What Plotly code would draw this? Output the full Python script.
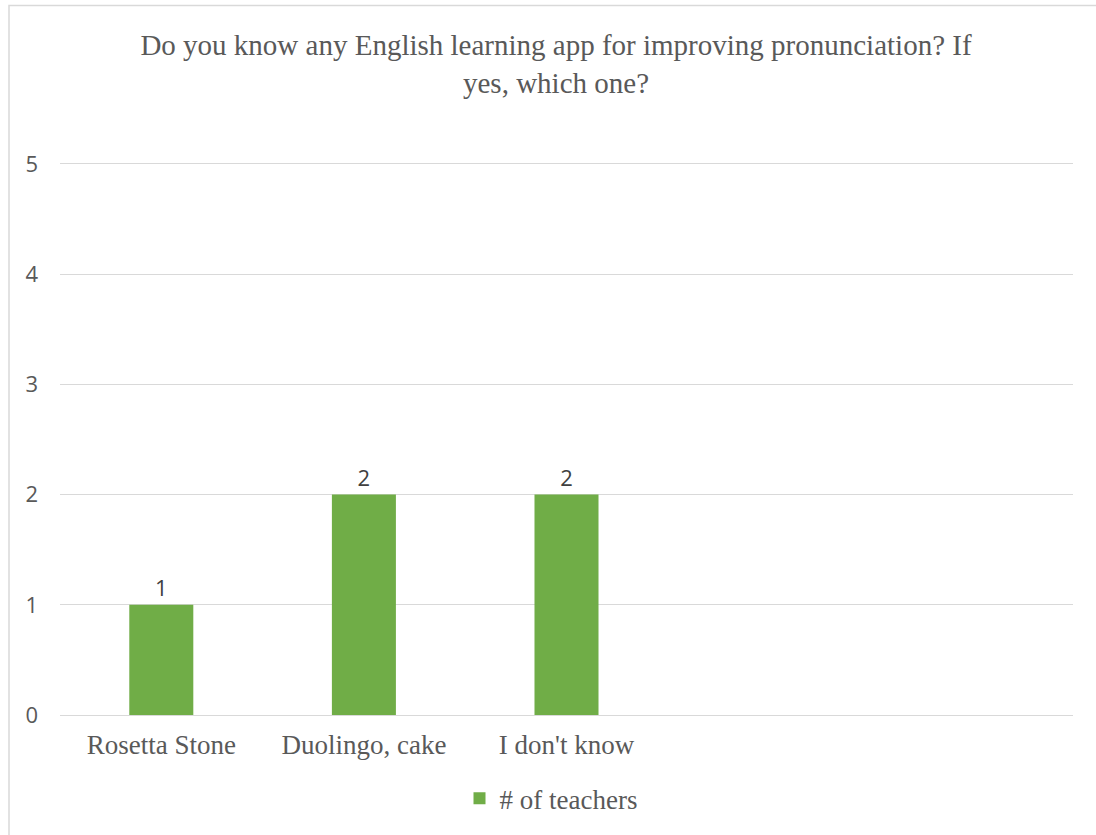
import plotly.graph_objects as go

categories = ["Rosetta Stone", "Duolingo, cake", "I don't know"]
positions = [0, 1, 2]
teachers = [1, 2, 2]
series_name = "# of teachers"
y_ticks = [0, 1, 2, 3, 4, 5]

W, H = 1096, 835
L, R, T, B = 60, 1096 - 1073, 158, 835 - 717
pw, ph = W - L - R, H - T - B
y_top = 5 + (164 - T) / 110.6

fig = go.Figure()
fig.add_trace(go.Bar(
    x=positions, y=teachers, name=series_name,
    width=0.316, marker=dict(color="#70ad47", line=dict(width=0)),
    text=[str(v) for v in teachers], textposition="outside",
    textfont=dict(family="Open Sans, Liberation Sans, sans-serif", size=22, color="#404040"),
    cliponaxis=False, showlegend=True,
))

fig.update_layout(
    width=W, height=H,
    margin=dict(l=L, r=R, t=T, b=B),
    paper_bgcolor="white", plot_bgcolor="white",
    title=dict(
        text="Do you know any English learning app for improving pronunciation? If<br>yes, which one?",
        x=556 / W, xanchor="center", y=1 - 55 / H, yanchor="middle",
        font=dict(family="Liberation Serif, Times New Roman, serif", size=29, color="#595959"),
    ),
    xaxis=dict(
        range=[-0.5, 4.5], tickvals=positions, ticktext=categories,
        showgrid=False, zeroline=False, showline=False, ticks="",
        ticklabelstandoff=11,
        tickfont=dict(family="Liberation Serif, Times New Roman, serif", size=27, color="#595959"),
        fixedrange=True,
    ),
    yaxis=dict(
        range=[0, y_top], tickvals=y_ticks, showgrid=True, gridcolor="#d9d9d9", gridwidth=1,
        zeroline=True, zerolinecolor="#d9d9d9", zerolinewidth=1, showline=False,
        ticks="", ticklabelstandoff=21,
        tickfont=dict(family="Open Sans, Liberation Sans, sans-serif", size=22, color="#595959"),
        fixedrange=True,
    ),
    legend=dict(
        orientation="h", x=(551 - L) / pw, xanchor="center", y=(717 - 801) / ph, yanchor="middle",
        font=dict(family="Liberation Serif, Times New Roman, serif", size=27, color="#595959"),
        itemwidth=30, traceorder="normal",
    ),
    shapes=[dict(
        type="rect", xref="paper", yref="paper",
        x0=(9 - L) / pw, x1=1.2, y0=-0.5, y1=(717 - 5) / ph,
        line=dict(color="#d9d9d9", width=1.5), fillcolor="rgba(0,0,0,0)", layer="below",
    )],
)

fig.write_html("out.html")
